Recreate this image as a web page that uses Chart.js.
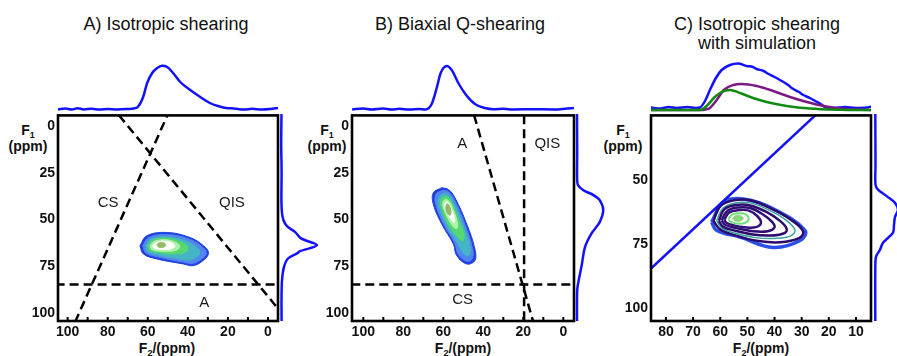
<!DOCTYPE html>
<html lang="en">
<head>
<meta charset="utf-8">
<title>Shearing</title>
<script src="https://cdn.jsdelivr.net/npm/chart.js@4.4.1/dist/chart.umd.min.js"></script>
<style>
  body { margin:0; width:897px; height:356px; overflow:hidden; position:relative; background:#fff;
         font-family: Arial, "Liberation Sans", Helvetica, sans-serif; color:#111; }
  .caja { position:absolute; }
  .titulo { position:absolute; font-size:18px; line-height:19px; text-align:center; white-space:nowrap; transform:translateX(-50%); }
  .eje { position:absolute; font-size:14px; font-weight:bold; line-height:16px; text-align:center; white-space:nowrap; transform:translateX(-50%); }
  .eje sub { font-size:9px; vertical-align:-3px; line-height:0; }
</style>
</head>
<body>
<div class="titulo" style="left:166px; top:15px;">A) Isotropic shearing</div>
<div class="titulo" style="left:460px; top:15px;">B) Biaxial Q-shearing</div>
<div class="titulo" style="left:757px; top:15px;">C) Isotropic shearing<br>with simulation</div>

<div class="eje" style="left:28px; top:122px;">F<sub>1</sub><br>(ppm)</div>
<div class="eje" style="left:327px; top:122px;">F<sub>1</sub><br>(ppm)</div>
<div class="eje" style="left:623px; top:122px;">F<sub>1</sub><br>(ppm)</div>
<div class="eje" style="left:167px; top:340px;">F<sub>2</sub>/(ppm)</div>
<div class="eje" style="left:463px; top:340px;">F<sub>2</sub>/(ppm)</div>
<div class="eje" style="left:761px; top:340px;">F<sub>2</sub>/(ppm)</div>

<div id="zona"></div>

<script>
// --- DATOS DE LOS EJES ---
const ticksX_AB = [0, 20, 40, 60, 80, 100];
const ticksY_AB = [0, 25, 50, 75, 100];
const ticksX_C = [10, 20, 30, 40, 50, 60, 70, 80];
const ticksY_C = [50, 75, 100];
const menoresAB = [0, 10, 20, 30, 40, 50, 60, 70, 80, 90, 100];
const menoresC = [10, 20, 30, 40, 50, 60, 70, 80];

// --- PROYECCIONES (ppm, intensidad) ---
const proyArribaA = [[104.8,0.5],[101,1.5],[98,0.5],[95,1.8],[92,0.6],[88,1.2],[84,0.4],[80,1],[75,0.5],[70,1],[67,1.5],[65,3],[62.3,13],[60.3,27],[57.8,37],[55.3,42],[52.9,44.3],[50.3,43],[47.8,38],[43.8,28],[38.8,20],[33.8,13],[29,7],[25,4],[21,2],[17,1.5],[12,0.5],[8,1.2],[3,0.5],[-1,1],[-5,2]];
const proyArribaB = [[105.6,0.5],[100,1.5],[96,0.5],[90,1.5],[86,0.5],[82,1.2],[77,0.5],[72,1],[69,0.5],[65.8,6],[63.3,22],[61.3,37],[58.3,44],[55.8,40],[52.5,27],[48.6,15],[44.2,6],[39.2,2],[35,0.8],[30,1.2],[25,0.5],[15,0.8],[5,0.5],[-2,1.5],[-5.3,2]];
const proyArribaC_exp = [[85.5,2.5],[82,1.5],[79,3],[76,2],[72,3],[69,2],[67.5,2.5],[65.6,9],[63.8,20],[61.6,32],[59.5,40],[56.4,45],[53.4,46.5],[50.3,44],[48,43],[46.6,41],[44,39],[42.9,37],[40,33],[38,30],[35,25],[33.7,22],[31,18],[29.4,15],[27,12],[25,9],[23,6],[21.4,3],[18,2],[14,3],[10,2],[6,2.5],[4.5,3.5]];
const proyArribaC_sim1 = [[85.5,0],[67.5,0],[65.5,0.5],[63.8,2],[61.3,10],[58.7,20],[55.2,25],[52.1,26],[46.6,24],[40.5,19],[34.3,13],[28.1,8],[22,4],[14,1],[4.5,0]];
const proyArribaC_sim2 = [[85.5,0],[67.5,0],[66.5,0.8],[65,4],[62,13],[59.5,18],[56.4,20],[52.7,17],[47.9,12],[42.9,8],[35.5,4],[27,1.5],[16,0.3],[4.5,0]];

// (intensidad, ppm)
const proyDerA = [[0.5,-5.9],[0.2,10],[0.6,25],[0.4,40],[1,46.9],[2.5,50.7],[6,53.9],[14,56.9],[20,60.4],[36,64],[19,67.2],[16,68.4],[7,71.1],[3,75.6],[1,82.7],[0.5,93.3],[0.6,104.4]];
const proyDerB = [[0.3,-5.9],[0.5,15],[0.4,28],[1.3,32],[6.7,34.7],[16.7,37.3],[23,40],[26.5,45.3],[23,51.7],[15,57.6],[8.3,65],[5,74.7],[2,82.7],[0.5,88],[0.3,104.4]];
const proyDerC = [[0.3,25],[0.5,45],[0.5,52.3],[3,54.2],[12,56.8],[20,59.3],[23,62],[20,64.7],[19,67.8],[18,70.8],[8,74.7],[5,77.4],[1,80.1],[0.3,85],[0.3,104.9]];

// --- CONTORNOS (F2, F1) de fuera hacia dentro ---
const contornosA = [
  [[63.9,64],[60.5,58.7],[50.5,56.9],[38.9,59.6],[32.2,64],[29.7,67.6],[31.4,71.1],[37.2,74.7],[42.2,73.8],[55.5,71.1],[62.2,68.4]],
  [[62.5,64],[59.5,59.6],[50.5,58],[39,60.6],[33,64.5],[30.8,67.8],[32.3,70.5],[37.5,73.5],[42,72.8],[55,70],[61,67.8]],
  [[61,64],[58.5,60.5],[50.5,59.2],[41,61.5],[35.5,65],[34,68],[38,71.5],[43,71.3],[54.5,69],[60,67.3]],
  [[60,63.8],[57.5,61],[51,60],[44,61.8],[40,64.5],[41,67.3],[46,68.5],[54,67.8],[59,66.5]],
  [[58.8,63.8],[56.5,61.6],[51,60.8],[46,62.3],[44,64.3],[46,66.5],[53,67],[58,66]],
  [[57.5,63.7],[55.5,62.2],[51,61.6],[47.5,62.8],[46.5,64.3],[48,65.6],[53,66],[56.8,65.2]],
  [[55.5,63.6],[54.5,62.5],[52,62.5],[51,63.6],[52,64.8],[54.5,64.8]]
];
const contornosB = [
  [[60.8,32.9],[65,35.6],[65,41.8],[60.8,52.4],[55,63.1],[53.3,69.3],[48.3,73.8],[44.2,72],[44.2,65.8],[48.3,52.4],[54.2,38.2],[57.5,33.8]],
  [[60.5,34.3],[63.7,36.5],[63.7,42],[59.8,52.5],[54.3,62.5],[52.5,68.5],[48.3,72.3],[45.5,71],[45.4,65.5],[49.3,52.3],[54.5,39.3],[57.5,35]],
  [[60,36],[62.3,38],[62.2,43],[58.5,53],[53.5,61.5],[51,66.5],[48,69.5],[46.5,67],[47.5,61],[50.5,52],[55,40.5],[57.5,36.5]],
  [[59.5,37.5],[61.3,39.5],[60.8,44],[57.3,53],[53,59],[50.3,61.5],[49.7,57.5],[51.8,51.5],[55.3,42],[57.6,38.2]],
  [[59,39],[60.3,41],[59.5,45],[56.5,51.5],[53.5,55],[52.8,52.5],[55.3,44],[57.5,39.8]],
  [[58.5,40.5],[59.3,42.3],[58.3,46],[56,50],[54.5,51.5],[54.6,48.5],[56.3,43.5],[57.5,41]],
  [[58.2,41.5],[58.8,43.5],[57.8,47],[56.5,47.5],[56.2,45],[57.3,42]]
];
const contornosC = [
  [[63.2,66.5],[58.9,58.8],[51.5,57.5],[40.5,61.3],[28.8,69.7],[30.6,73.6],[40.5,76.3],[52.7,72.3],[61.3,69.7]],
  [[62.5,66],[60,60.3],[55,58],[49,58],[41,61.3],[34,65.5],[29.5,70],[31,72.7],[38,74.3],[46,73.8],[54,71.8],[60,69.3]],
  [[61.3,66],[59,61],[54.5,59],[49,59],[42,61.8],[36,65.5],[32.5,69.5],[34,71.8],[40,72.8],[47,72.5],[54.5,70.8],[59.5,68.7]],
  [[60.5,66],[58.5,61.5],[54,59.8],[49,60],[43,62.5],[38,66],[35.5,69.2],[37,71],[42,71.7],[48,71.3],[54.5,69.8],[59,68.2]],
  [[59.5,65.8],[57.5,62.2],[53.5,60.8],[49,61],[44.5,63.3],[41,66.3],[40,68.5],[42.5,70],[48,70],[54,68.8],[58.2,67.5]],
  [[58.5,65.6],[56.8,62.8],[53,61.8],[49.5,62],[46.5,64],[45,66.5],[46.5,68.3],[51,68.5],[55.5,67.6],[57.7,66.7]],
  [[57,65.4],[55.5,63.5],[52.5,63],[50.5,63.5],[49.5,65.3],[51,66.8],[54,67],[56.3,66.3]],
  [[55.5,65.2],[54.5,64],[52.5,64],[51.5,65],[52.5,66],[54.5,66]]
];

// --- LINEAS GUIA ---
const lineasA = [[[96.3,105],[50.2,-6]], [[74.4,-6],[-5.2,98]], [[106,84.8],[-6,84.8]]];
const lineasB = [[[44.6,-6],[15,105]], [[19.6,-6],[19.6,105]], [[106,84.8],[-6,84.8]]];
const diagonalC = [[86,85],[24,24]];

const etiquetasA = [{texto:'CS', x:79.8, y:41}, {texto:'QIS', x:18, y:41}, {texto:'A', x:31.8, y:94.8}];
const etiquetasB = [{texto:'A', x:50.5, y:9.2}, {texto:'QIS', x:8, y:9.2}, {texto:'CS', x:50.3, y:93.3}];

// --- ESTILOS ---
const coloresRelleno = ['#2140e2', '#5286ee', '#44b4c6', '#55d86e', '#b0f2ac', '#ffffff', '#95bb6a'];
const coloresLineaC = ['#2a4ee8', '#2b0b6c', '#3aa0a0', '#2b0b6c', '#2f0d72', '#33107a', '#6fe078', '#8fd47c'];
const anchosLineaC = [3.5, 2.5, 1.5, 2.5, 2.5, 2.5, 2, 1];
const AZUL = '#1212ff';

const paneles = {
  A: { L:58, R:278, T:114, B:321, xMin:-5, xMax:104.8, yMin:-5.9, yMax:104.4, base:-2 },
  B: { L:352, R:574, T:114, B:321, xMin:-5.35, xMax:105.65, yMin:-5.9, yMax:104.4, base:-1.7 },
  C: { L:651, R:871, T:114, B:321, xMin:4.47, xMax:85.5, yMin:25, yMax:104.9, base:-3 }
};

const FUENTE = 'Arial, "Liberation Sans", sans-serif';
Chart.defaults.font.family = FUENTE;
Chart.defaults.animation = false;

// --- PLUGIN MARCO ---
const marcoPlugin = {
  id: 'marco',
  afterDraw(chart, args, opts) {
    const { ctx, chartArea: a, scales: { x, y } } = chart;
    ctx.save();
    ctx.fillStyle = '#1a1a1a';
    ctx.font = '15px ' + FUENTE;
    ctx.textAlign = 'center';
    ctx.textBaseline = 'middle';
    (opts.etiquetas || []).forEach(e => {
      ctx.fillText(e.texto, x.getPixelForValue(e.x), y.getPixelForValue(e.y));
    });
    ctx.strokeStyle = '#000';
    ctx.lineWidth = 2;
    (opts.menores || []).forEach(v => {
      const px = x.getPixelForValue(v);
      ctx.beginPath(); ctx.moveTo(px, a.bottom); ctx.lineTo(px, a.bottom - 4); ctx.stroke();
    });
    ctx.lineWidth = 2.6;
    ctx.strokeRect(a.left, a.top, a.right - a.left, a.bottom - a.top);
    ctx.restore();
  }
};

function puntos(arr) { return arr.map(([x, y]) => ({ x, y })); }
function cerrar(arr) { return puntos(arr.concat([arr[0]])); }

function crearCaja(left, top, width, height) {
  const div = document.createElement('div');
  div.className = 'caja';
  Object.assign(div.style, { left: left + 'px', top: top + 'px', width: width + 'px', height: height + 'px' });
  const canvas = document.createElement('canvas');
  div.appendChild(canvas);
  document.getElementById('zona').appendChild(div);
  return canvas;
}

function ejesPrincipales(p, ticksX, ticksY) {
  const comun = {
    type: 'linear', reverse: true, bounds: 'data',
    grid: { display: false, drawTicks: false }, border: { display: false },
    ticks: { font: { size: 14, weight: 'bold' }, color: '#111', padding: 3, autoSkip: false, maxRotation: 0 }
  };
  return {
    x: { ...comun, min: p.xMin, max: p.xMax,
         afterBuildTicks: ax => { ax.ticks = ticksX.map(v => ({ value: v })); },
         afterFit: ax => { ax.height = 25; } },
    y: { ...comun, min: p.yMin, max: p.yMax,
         afterBuildTicks: ax => { ax.ticks = ticksY.map(v => ({ value: v })); },
         afterFit: ax => { ax.width = 50; } }
  };
}

function crearPrincipal(p, datasets, ticksX, ticksY, etiquetas, menores) {
  const canvas = crearCaja(p.L - 50, p.T - 10, p.R - p.L + 60, p.B - p.T + 35);
  datasets.forEach((d, i) => { d.order = datasets.length - i; });
  new Chart(canvas, {
    type: 'scatter',
    data: { datasets },
    options: {
      responsive: true, maintainAspectRatio: false,
      layout: { padding: { left: 0, top: 10, right: 10, bottom: 0 } },
      scales: ejesPrincipales(p, ticksX, ticksY),
      plugins: { legend: { display: false }, tooltip: { enabled: false }, marco: { etiquetas, menores } }
    },
    plugins: [marcoPlugin]
  });
}

function poligono(arr, color) {
  return { data: cerrar(arr), showLine: true, fill: 'shape', backgroundColor: color, borderColor: color,
           borderWidth: 1, pointRadius: 0, tension: 0.4 };
}
function anillo(arr, color, ancho) {
  return { data: cerrar(arr), showLine: true, fill: false, borderColor: color, borderWidth: ancho,
           pointRadius: 0, tension: 0.4 };
}
function discontinua(arr) {
  return { data: puntos(arr), showLine: true, borderColor: '#000', borderWidth: 2.5, borderDash: [9, 5],
           pointRadius: 0, fill: false };
}

function crearArriba(p, series) {
  const canvas = crearCaja(p.L, 58, p.R - p.L, 54);
  new Chart(canvas, {
    type: 'scatter',
    data: { datasets: series.map(s => ({ data: puntos(s.datos), showLine: true, borderColor: s.color,
            borderWidth: 2.5, pointRadius: 0, cubicInterpolationMode: 'monotone' })) },
    options: {
      responsive: true, maintainAspectRatio: false,
      scales: { x: { type: 'linear', display: false, reverse: true, min: p.xMin, max: p.xMax },
                y: { type: 'linear', display: false, min: -2, max: 52 } },
      plugins: { legend: { display: false }, tooltip: { enabled: false } }
    }
  });
}

function crearDerecha(p, datos) {
  const canvas = crearCaja(p.R + 1, p.T, 40, p.B - p.T);
  new Chart(canvas, {
    type: 'scatter',
    data: { datasets: [{ data: puntos(datos), showLine: true, borderColor: AZUL, borderWidth: 2.5,
            pointRadius: 0, tension: 0.3 }] },
    options: {
      responsive: true, maintainAspectRatio: false,
      scales: { x: { type: 'linear', display: false, min: p.base, max: p.base + 40 },
                y: { type: 'linear', display: false, reverse: true, min: p.yMin, max: p.yMax } },
      plugins: { legend: { display: false }, tooltip: { enabled: false } }
    }
  });
}

// --- PANEL A ---
crearPrincipal(paneles.A,
  [...contornosA.map((c, i) => poligono(c, coloresRelleno[i])), ...lineasA.map(discontinua)],
  ticksX_AB, ticksY_AB, etiquetasA, menoresAB);
crearArriba(paneles.A, [{ datos: proyArribaA, color: AZUL }]);
crearDerecha(paneles.A, proyDerA);

// --- PANEL B ---
crearPrincipal(paneles.B,
  [...contornosB.map((c, i) => poligono(c, coloresRelleno[i])), ...lineasB.map(discontinua)],
  ticksX_AB, ticksY_AB, etiquetasB, menoresAB);
crearArriba(paneles.B, [{ datos: proyArribaB, color: AZUL }]);
crearDerecha(paneles.B, proyDerB);

// --- PANEL C ---
const datosC = contornosC.map((c, i) => i === contornosC.length - 1
  ? poligono(c, coloresLineaC[i]) : anillo(c, coloresLineaC[i], anchosLineaC[i]));
datosC.push({ data: puntos(diagonalC), showLine: true, borderColor: AZUL, borderWidth: 2.5, pointRadius: 0 });
crearPrincipal(paneles.C, datosC, ticksX_C, ticksY_C, [], menoresC);
crearArriba(paneles.C, [
  { datos: proyArribaC_sim2, color: '#128a12' },
  { datos: proyArribaC_sim1, color: '#7a1a82' },
  { datos: proyArribaC_exp, color: AZUL }
]);
crearDerecha(paneles.C, proyDerC);
</script>
</body>
</html>
